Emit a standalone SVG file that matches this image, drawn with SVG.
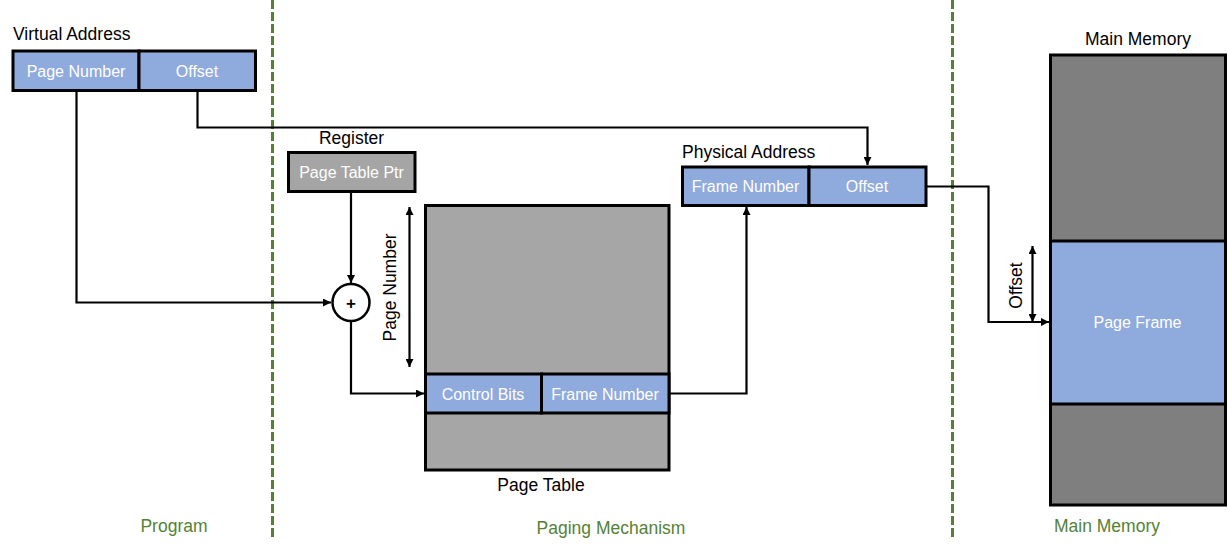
<svg xmlns="http://www.w3.org/2000/svg" width="1228" height="550" viewBox="0 0 1228 550">
<style>
  text { font-family: "Liberation Sans", Arial, sans-serif; }
  .lbl { font-size: 17.5px; fill: #000; }
  .wt { font-size: 16px; fill: #fff; text-anchor: middle; }
  .grn { font-size: 17.5px; fill: #548235; text-anchor: middle; }
  .blue { fill: #8faadc; stroke: #000; stroke-width: 3; }
  .gray { fill: #a6a6a6; stroke: #000; stroke-width: 3; }
  .dgray { fill: #7f7f7f; stroke: #000; stroke-width: 3; }
  .conn { fill: none; stroke: #000; stroke-width: 2.2; }
  .sep { stroke: #548235; stroke-width: 3; stroke-dasharray: 9 3; fill: none; }
</style>
<defs>
  <marker id="arr" viewBox="0 0 10 10" refX="10" refY="5" markerWidth="9" markerHeight="8" markerUnits="userSpaceOnUse" orient="auto-start-reverse">
    <path d="M0,0 L10,5 L0,10 z" fill="#000"/>
  </marker>
</defs>
<rect width="1228" height="550" fill="#fff"/>

<g id="separators">
  <line class="sep" x1="272.5" y1="0" x2="272.5" y2="537"/>
  <line class="sep" x1="952.5" y1="0" x2="952.5" y2="537"/>
</g>

<g id="connectors">
  <path class="conn" d="M76.5,91 V302.5 H331" marker-end="url(#arr)"/>
  <path class="conn" d="M197.5,91 V127.5 H867.5 V165" marker-end="url(#arr)"/>
  <path class="conn" d="M351,192 V283" marker-end="url(#arr)"/>
  <path class="conn" d="M351,321.5 V393.5 H424" marker-end="url(#arr)"/>
  <path class="conn" d="M669,393.5 H746.5 V207" marker-end="url(#arr)"/>
  <path class="conn" d="M926,186.5 H988.5 V322 H1049" marker-end="url(#arr)"/>
  <path class="conn" d="M409.5,207 V367" marker-start="url(#arr)" marker-end="url(#arr)"/>
  <path class="conn" d="M1032.5,246 V322" marker-start="url(#arr)" marker-end="url(#arr)"/>
</g>

<g id="virtual-address">
  <text class="lbl" x="13" y="39.5">Virtual Address</text>
  <rect class="blue" x="13" y="51" width="126" height="39.5"/>
  <rect class="blue" x="139" y="51" width="116.5" height="39.5"/>
  <text class="wt" x="76" y="76.5">Page Number</text>
  <text class="wt" x="197" y="76.5">Offset</text>
</g>

<g id="register">
  <text class="lbl" x="351.5" y="144" text-anchor="middle">Register</text>
  <rect x="288.5" y="152.5" width="126.5" height="39" fill="#a5a5a5" stroke="#000" stroke-width="3"/>
  <text class="wt" x="351.5" y="178">Page Table Ptr</text>
</g>

<g id="adder">
  <circle cx="351" cy="302.5" r="18.5" fill="#fff" stroke="#000" stroke-width="2.5"/>
  <text x="351" y="308.5" font-size="17" font-weight="bold" text-anchor="middle" fill="#000">+</text>
</g>

<g id="page-number-label">
  <text class="lbl" transform="translate(396,287.5) rotate(-90)" text-anchor="middle">Page Number</text>
</g>

<g id="page-table">
  <rect class="gray" x="425.5" y="205.5" width="243.5" height="264.5"/>
  <rect class="blue" x="425.5" y="374" width="116" height="39"/>
  <rect class="blue" x="541.5" y="374" width="127.5" height="39"/>
  <text class="wt" x="483" y="400">Control Bits</text>
  <text class="wt" x="605" y="400">Frame Number</text>
  <text class="lbl" x="541" y="491" text-anchor="middle">Page Table</text>
</g>

<g id="physical-address">
  <text class="lbl" x="682" y="157.5">Physical Address</text>
  <rect class="blue" x="682.5" y="167" width="126.5" height="38.5"/>
  <rect class="blue" x="809" y="167" width="117" height="38.5"/>
  <text class="wt" x="745.5" y="191.5">Frame Number</text>
  <text class="wt" x="867" y="191.5">Offset</text>
</g>

<g id="offset-label">
  <text class="lbl" transform="translate(1021.5,285.5) rotate(-90)" text-anchor="middle">Offset</text>
</g>

<g id="main-memory">
  <text class="lbl" x="1138" y="45" text-anchor="middle">Main Memory</text>
  <rect class="dgray" x="1050.5" y="55" width="175" height="450"/>
  <rect class="blue" x="1050.5" y="241" width="175" height="163"/>
  <text class="wt" x="1137.5" y="328">Page Frame</text>
</g>

<g id="region-labels">
  <text class="grn" x="174" y="532">Program</text>
  <text class="grn" x="611" y="534">Paging Mechanism</text>
  <text class="grn" x="1107" y="532">Main Memory</text>
</g>
</svg>
